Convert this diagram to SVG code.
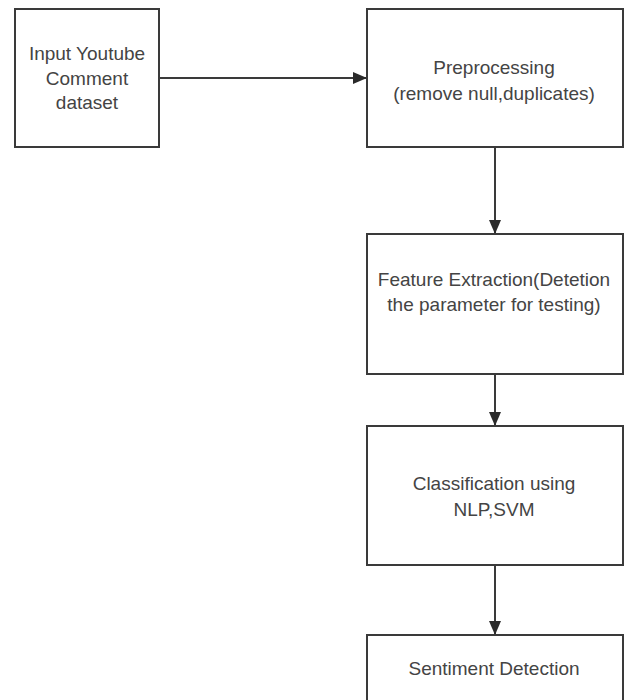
<svg xmlns="http://www.w3.org/2000/svg" width="625" height="700" viewBox="0 0 625 700">
<style>
.box{fill:#ffffff;stroke:#3a3a3a;stroke-width:2}
.lbl{font-family:"Liberation Sans",Arial,sans-serif;font-size:19px;fill:#444;text-anchor:middle;dominant-baseline:central}
.edge{stroke:#3a3a3a;stroke-width:2;fill:none;marker-end:url(#arr)}
</style>
<defs>
<marker id="arr" markerWidth="14" markerHeight="12" refX="14" refY="6" orient="auto" markerUnits="userSpaceOnUse">
<path d="M0,0 L14,6 L0,12 Z" fill="#2a2a2a"/>
</marker>
</defs>
<rect width="625" height="700" fill="#ffffff"/>
<g id="connectors">
<line class="edge" x1="159" y1="78" x2="367" y2="78"/>
<line class="edge" x1="495" y1="147" x2="495" y2="234"/>
<line class="edge" x1="495" y1="374" x2="495" y2="426"/>
<line class="edge" x1="495" y1="565" x2="495" y2="635"/>
</g>
<g id="node-input">
<rect class="box" x="15" y="9" width="144" height="138"/>
<text class="lbl" x="87" y="53">Input Youtube</text>
<text class="lbl" x="87" y="78">Comment</text>
<text class="lbl" x="87" y="102">dataset</text>
</g>
<g id="node-preprocessing">
<rect class="box" x="367" y="9" width="256" height="138"/>
<text class="lbl" x="494" y="67">Preprocessing</text>
<text class="lbl" x="494" y="93">(remove null,duplicates)</text>
</g>
<g id="node-feature">
<rect class="box" x="367" y="234" width="256" height="140"/>
<text class="lbl" x="494" y="279">Feature Extraction(Detetion</text>
<text class="lbl" x="494" y="304">the parameter for testing)</text>
</g>
<g id="node-classification">
<rect class="box" x="367" y="426" width="256" height="139"/>
<text class="lbl" x="494" y="483">Classification using</text>
<text class="lbl" x="494" y="509">NLP,SVM</text>
</g>
<g id="node-sentiment">
<rect class="box" x="367" y="635" width="256" height="80"/>
<text class="lbl" x="494" y="668">Sentiment Detection</text>
</g>
</svg>
